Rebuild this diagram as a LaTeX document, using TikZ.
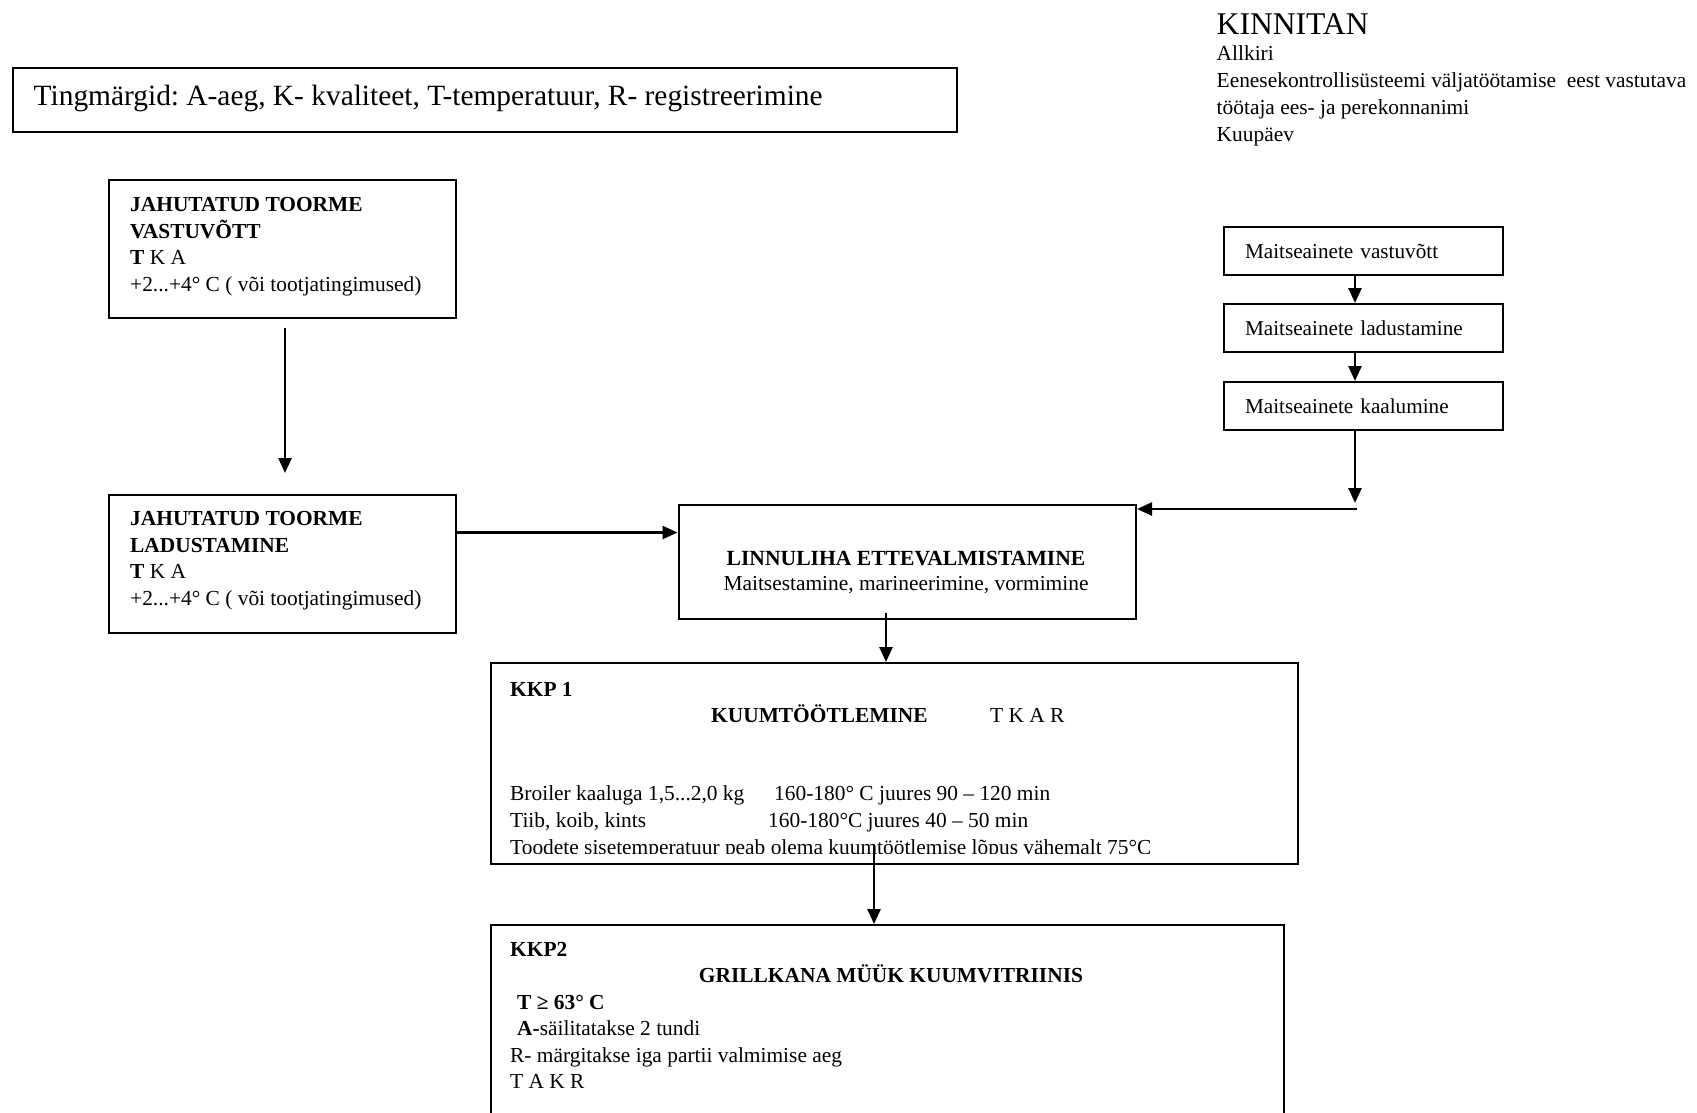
\documentclass[tikz,border=0pt]{standalone}
\usepackage{fontspec}
\setmainfont{Liberation Serif}
\usetikzlibrary{arrows.meta}
\frenchspacing
\begin{document}
\begin{tikzpicture}[x=1pt,y=-1pt,
  box/.style={draw, line width=2pt, inner sep=0pt, anchor=north west},
  arr/.style={line width=2.6pt, -{Triangle[length=15pt,width=13pt]}},
  txt/.style={anchor=base west, inner sep=0pt, font=\fontsize{21.4}{27}\selectfont},
  ctxt/.style={anchor=base, inner sep=0pt, font=\fontsize{21.4}{27}\selectfont},
  mbox/.style={box, minimum width=279pt, minimum height=48pt, text width=237pt, inner xsep=21pt, align=left, font=\fontsize{21.2}{27}\selectfont},
  ]
\useasboundingbox (0,0) rectangle (1697,1112);

% legend box
\node[box, minimum width=944pt, minimum height=64pt] (leg) at (12,67) {};
\node[anchor=base west, inner sep=0pt, font=\fontsize{29.4}{34}\selectfont] (legt) at (33.5,105) {Tingmärgid: A-aeg, K- kvaliteet, T-temperatuur, R- registreerimine};

% approval block
\node[anchor=base west, inner sep=0pt, font=\fontsize{31.6}{36}\selectfont] (kin) at (1216.5,34.6) {KINNITAN};
\node[txt] (k1) at (1216.5,60) {Allkiri};
\node[txt] (k2) at (1216.5,87.5) {Eenesekontrollisüsteemi väljatöötamise\ \ eest vastutava};
\node[txt] (k3) at (1216.5,114.5) {töötaja ees- ja perekonnanimi};
\node[txt] (k4) at (1216.5,141.5) {Kuupäev};

% box 1
\node[box, minimum width=347pt, minimum height=138pt] (b1) at (108,179) {};
\node[txt] (b1a) at (130,211.5) {\textbf{JAHUTATUD TOORME}};
\node[txt] (b1b) at (130,238) {\textbf{VASTUVÕTT}};
\node[txt] (b1c) at (130,264.6) {\textbf{T} K A};
\node[txt] (b1d) at (130,291) {+2...+4° C ( või tootjatingimused)};

% box 2
\node[box, minimum width=347pt, minimum height=138pt] (b2) at (108,494) {};
\node[txt] (b2a) at (130,525.4) {\textbf{JAHUTATUD TOORME}};
\node[txt] (b2b) at (130,552.5) {\textbf{LADUSTAMINE}};
\node[txt] (b2c) at (130,578.5) {\textbf{T} K A};
\node[txt] (b2d) at (130,605) {+2...+4° C ( või tootjatingimused)};

% seasoning boxes
\node[mbox] (m1) at (1223,226) {Maitseainete vastuvõtt};
\node[mbox] (m2) at (1223,303) {Maitseainete ladustamine};
\node[mbox] (m3) at (1223,381) {Maitseainete kaalumine};

% preparation box
\node[box, minimum width=457.5pt, minimum height=114pt] (linn) at (677.5,504) {};
\node[ctxt, font=\fontsize{21.6}{27}\selectfont] (la) at (906,565.5) {\textbf{LINNULIHA ETTEVALMISTAMINE}};
\node[ctxt] (lb) at (906,590.5) {Maitsestamine, marineerimine, vormimine};

% KKP1
\node[box, minimum width=807pt, minimum height=201pt] (kkp1) at (490,662) {};
\node[txt] (p1a) at (510,696) {\textbf{KKP 1}};
\node[txt] (p1b) at (711,722) {\textbf{KUUMTÖÖTLEMINE}};
\node[txt] (p1c) at (990,722) {T K A R};
\node[txt] (p1d) at (510,800) {Broiler kaaluga 1,5...2,0 kg};
\node[txt] (p1e) at (774,800) {160-180° C juures 90 – 120 min};
\node[txt] (p1f) at (510,827) {Tiib, koib, kints};
\node[txt] (p1g) at (768,827) {160-180°C juures 40 – 50 min};
\begin{scope}
\clip (490,662) rectangle (1297,853);
\node[txt] (p1h) at (510,854) {Toodete sisetemperatuur peab olema kuumtöötlemise lõpus vähemalt 75°C};
\end{scope}

% KKP2
\node[box, minimum width=793pt, minimum height=230pt] (kkp2) at (490,924) {};
\node[txt] (p2a) at (510,956) {\textbf{KKP2}};
\node[ctxt] (p2b) at (891,982) {\textbf{GRILLKANA MÜÜK KUUMVITRIINIS}};
\node[txt] (p2c) at (517,1009) {\textbf{T ≥ 63° C}};
\node[txt] (p2d) at (517,1035) {\textbf{A-}säilitatakse 2 tundi};
\node[txt] (p2e) at (510,1062) {R- märgitakse iga partii valmimise aeg};
\node[txt] (p2f) at (510,1088) {T A K R};

% connectors
\coordinate (b1o) at (285,328);
\coordinate (b2i) at (285,473);
\draw[arr] (b1o) -- (b2i);
\draw[arr] (b2.east |- 0,532.5) -- (linn.west |- 0,532.5);
\draw[arr] (m1.south -| 1355,0) -- (m2.north -| 1355,0);
\draw[arr] (m2.south -| 1355,0) -- (m3.north -| 1355,0);
\coordinate (jn) at (1355,503);
\coordinate (jh) at (1357,509);
\draw[arr] (m3.south -| 1355,0) -- (jn);
\draw[arr] (jh) -- (linn.east |- jh);
\coordinate (lo) at (886,612.5);
\draw[arr] (lo) -- (kkp1.north -| lo);
\coordinate (ko) at (874,846);
\draw[arr] (ko) -- (kkp2.north -| ko);
\end{tikzpicture}
\end{document}
